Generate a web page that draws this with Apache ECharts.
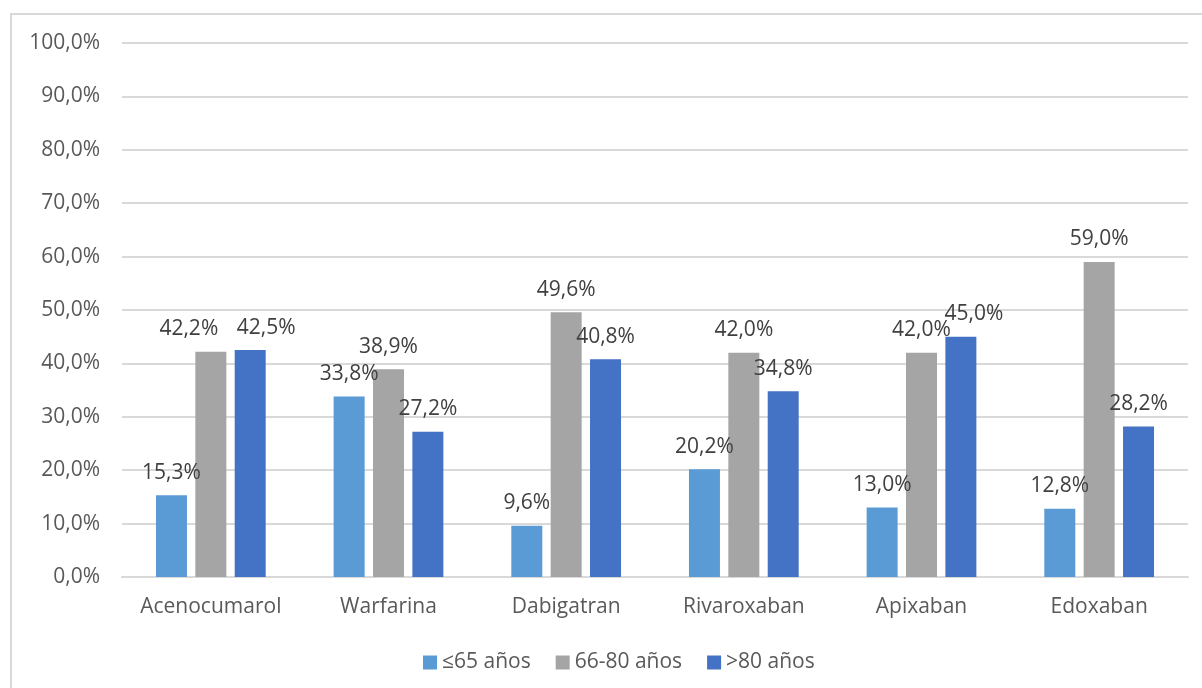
<!DOCTYPE html>
<html>
<head>
<meta charset="utf-8">
<title>Anticoagulantes por grupo de edad</title>
<script src="https://cdn.jsdelivr.net/npm/echarts@6/dist/echarts.min.js"></script>
<style>
  html, body { margin: 0; padding: 0; background: #ffffff; }
  #chart { width: 1202px; height: 688px; }
</style>
</head>
<body>
<div id="chart"></div>
<script>
// Drug categories on the x axis
const categories = ['Acenocumarol', 'Warfarina', 'Dabigatran', 'Rivaroxaban', 'Apixaban', 'Edoxaban'];

// Percentage of patients per age group
const seriesNames = ['≤65 años', '66-80 años', '>80 años'];
const ageUpTo65 = [15.3, 33.8, 9.6, 20.2, 13.0, 12.8];
const age66to80 = [42.2, 38.9, 49.6, 42.0, 42.0, 59.0];
const ageOver80 = [42.5, 27.2, 40.8, 34.8, 45.0, 28.2];

// Y axis ticks (percent)
const yMin = 0;
const yMax = 100;
const yStep = 10;

const colors = ['#5B9BD5', '#A5A5A5', '#4472C4'];
const fontFamily = '"Open Sans", "Liberation Sans", sans-serif';

// Horizontal nudges (px) for value labels that would otherwise collide,
// keyed "seriesIndex-categoryIndex"
const labelNudge = { '1-0': -22, '2-0': 16, '2-4': 13 };

function pct(v) {
  return Number(v).toFixed(1).replace('.', ',') + '%';
}

const seriesData = [ageUpTo65, age66to80, ageOver80];

const chart = echarts.init(document.getElementById('chart'), null, { renderer: 'canvas' });

chart.setOption({
  animation: false,
  backgroundColor: '#ffffff',
  textStyle: { fontFamily: fontFamily },
  grid: { left: 122, right: 14, top: 43, bottom: 111, containLabel: false },
  graphic: [{
    type: 'rect',
    silent: true,
    z: -1,
    shape: { x: 11, y: 14, width: 1200, height: 700 },
    style: { fill: 'none', stroke: '#D9D9D9', lineWidth: 2 }
  }],
  legend: {
    data: seriesNames,
    bottom: 10,
    left: 418,
    itemWidth: 14,
    itemHeight: 14,
    itemGap: 25,
    icon: 'rect',
    textStyle: { color: '#595959', fontSize: 21, fontFamily: fontFamily }
  },
  xAxis: {
    type: 'category',
    data: categories,
    axisLine: { show: true, lineStyle: { color: '#D9D9D9', width: 2 } },
    axisTick: { show: false },
    axisLabel: { color: '#595959', fontSize: 21, fontFamily: fontFamily, margin: 20, interval: 0 },
    splitLine: { show: false }
  },
  yAxis: {
    type: 'value',
    min: yMin,
    max: yMax,
    interval: yStep,
    axisLine: { show: false },
    axisTick: { show: false },
    axisLabel: {
      color: '#595959', fontSize: 21, fontFamily: fontFamily, margin: 22,
      formatter: pct
    },
    splitLine: { show: true, lineStyle: { color: '#D9D9D9', width: 2 } }
  },
  series: seriesNames.map((name, i) => ({
    name: name,
    type: 'bar',
    data: seriesData[i].map((v, j) => {
      const dx = labelNudge[i + '-' + j];
      return dx === undefined ? v : { value: v, label: { offset: [dx, 0] } };
    }),
    barWidth: 31,
    barGap: '27%',
    itemStyle: { color: colors[i] },
    label: {
      show: true,
      position: 'top',
      distance: 12,
      color: '#404040',
      fontSize: 21,
      fontFamily: fontFamily,
      formatter: (p) => pct(p.value)
    }
  }))
});
</script>
</body>
</html>
